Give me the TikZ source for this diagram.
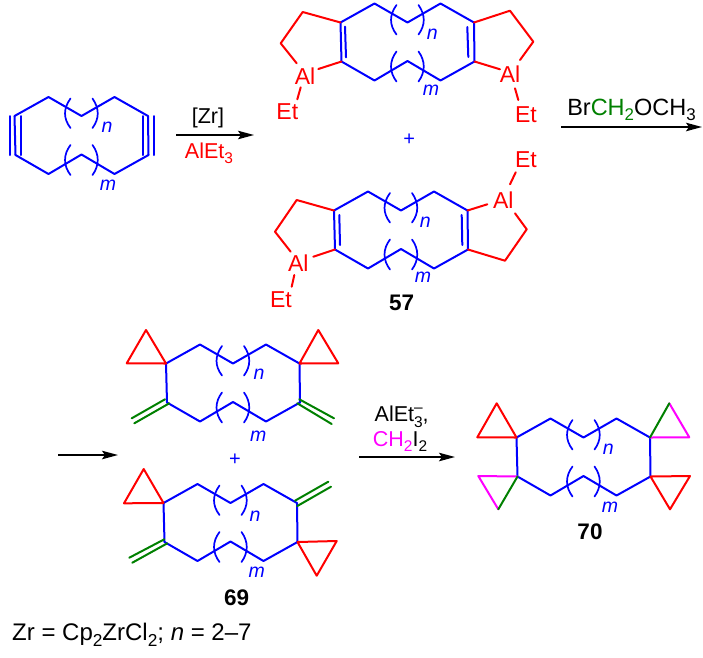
\documentclass[tikz,border=0pt]{standalone}
\usepackage{graphicx}
\usepackage{fontspec}
\setmainfont{Liberation Sans}
\usetikzlibrary{arrows.meta}
\definecolor{bondblue}{RGB}{0,0,255}
\definecolor{bondred}{RGB}{255,0,0}
\definecolor{bondgreen}{RGB}{0,128,0}
\definecolor{bondpink}{RGB}{255,0,255}
\newcommand{\subt}[1]{\raisebox{-.24em}{\scalebox{.72}{#1}}}
\newcommand{\supt}[1]{\raisebox{.42em}{\scalebox{.72}{#1}}}
\tikzset{
  blueb/.style={draw=bondblue,line width=2pt,line join=round,line cap=round},
  redb/.style={draw=bondred,line width=2pt,line join=round,line cap=round},
  greenb/.style={draw=bondgreen,line width=2pt,line cap=round},
  pinkb/.style={draw=bondpink,line width=2pt,line join=round,line cap=round},
  parenb/.style={draw=bondblue,line width=1.7pt,line cap=round},
  atomlab/.style={text=bondred,inner sep=0pt,font=\fontsize{23}{26}\selectfont},
  idxlab/.style={text=bondblue,inner sep=0pt,font=\fontsize{19.5}{22}\selectfont\itshape},
  pluslab/.style={text=bondblue,inner sep=0pt,font=\fontsize{20}{22}\selectfont},
  numlab/.style={inner sep=0pt,font=\fontsize{22.5}{25}\selectfont\bfseries},
  reagent/.style={inner sep=0pt,font=\fontsize{21.5}{24}\selectfont},
  rxn/.style={draw=black,line width=1.6pt,-{Stealth[length=16pt,width=8.5pt,inset=3pt]}},
}
% ring skeleton: corners named <name>p1..<name>p10
\newcommand{\ringat}[3]{%
  \begin{scope}[shift={(#2,#3)}]
    \coordinate (#1p1) at (-67,-19.5);
    \coordinate (#1p2) at (-33,-38.5);
    \coordinate (#1p3) at (0,-19.5);
    \coordinate (#1p4) at (33,-38.5);
    \coordinate (#1p5) at (66.5,-19.5);
    \coordinate (#1p6) at (67,19.5);
    \coordinate (#1p7) at (33,38.5);
    \coordinate (#1p8) at (0,19);
    \coordinate (#1p9) at (-33,38.5);
    \coordinate (#1p10) at (-66,19.5);
    \draw[blueb] (#1p1)--(#1p2)--(#1p3)--(#1p4)--(#1p5);
    \draw[blueb] (#1p6)--(#1p7)--(#1p8)--(#1p9)--(#1p10);
    \draw[parenb] (-11,-37) .. controls (-18.3,-27) and (-18.3,-17) .. (-11,-7.5);
    \draw[parenb] (11,-37) .. controls (18,-27) and (18,-17) .. (11,-7.5);
    \draw[parenb] (-11,9.5) .. controls (-18.3,19) and (-18.3,30) .. (-11,39.5);
    \draw[parenb] (11,9.5) .. controls (18,19) and (18,30) .. (11,39.5);
  \end{scope}}
\begin{document}
\begin{tikzpicture}[x=1pt,y=-1pt]
\useasboundingbox (0,0) rectangle (703,657);

% starting diyne
\ringat{s}{81.5}{135.5}
\draw[blueb] (sp1)--(sp10);
\draw[blueb] (9.5,116)--(9.5,155);
\draw[blueb] (20.5,116)--(20.5,155);
\draw[blueb] (sp5)--(sp6);
\draw[blueb] (142.5,116)--(142.5,155);
\draw[blueb] (153.5,116)--(153.5,155);
\node[idxlab] (sn) at (107,127) {n};
\node[idxlab] (sm) at (108,185) {m};

% arrow 1
\coordinate (a1s) at (176,135);
\coordinate (a1e) at (254,135);
\draw[rxn] (a1s)--(a1e);
\node[reagent] (zr) at (208,118) {[Zr]};
\node[reagent,text=bondred] (alet) at (209,153) {AlEt\subt{3}};

% upper dialane
\ringat{a}{407.5}{42}
\draw[blueb] (ap1)--(ap10);
\draw[blueb] (345,26.7)--(346,57.3);
\draw[blueb] (ap5)--(ap6);
\draw[blueb] (467.3,27)--(468.3,57);
\draw[redb] (ap1)--(302.7,12)--(280.7,43.3)--(296.7,63.3);
\draw[redb] (ap10)--(318.3,69);
\node[atomlab] (aal1) at (305,76) {Al};
\draw[redb] (300.7,87.3)--(297.3,99.3);
\node[atomlab] (aet1) at (287.3,111.7) {Et};
\draw[redb] (ap5)--(510,10.7)--(533.3,41.7)--(520,60);
\draw[redb] (ap6)--(500,69.3);
\node[atomlab] (aal2) at (510,74) {Al};
\draw[redb] (515,88.3)--(518.3,100);
\node[atomlab] (aet2) at (526,115) {Et};
\node[idxlab] (an) at (432.3,34) {n};
\node[idxlab] (am) at (431,90) {m};
\node[pluslab] (p1) at (409.3,140) {+};

% lower dialane
\ringat{b}{401}{230}
\draw[blueb] (bp1)--(bp10);
\draw[blueb] (339.3,215)--(340,245);
\draw[blueb] (bp5)--(bp6);
\draw[blueb] (461.7,215)--(462.3,245);
\draw[redb] (bp1)--(296.7,200)--(275,231.7)--(290.7,251.7);
\draw[redb] (bp10)--(313.3,256.7);
\node[atomlab] (bal1) at (298.3,262.7) {Al};
\draw[redb] (294.3,275)--(291.7,286.7);
\node[atomlab] (bet1) at (281,300) {Et};
\draw[redb] (bp5)--(487.3,204.3);
\node[atomlab] (bal2) at (503.3,200) {Al};
\draw[redb] (515,213.3)--(526.7,229.3)--(505,260.7)--(bp6);
\draw[redb] (510,184.3)--(515.7,172.3);
\node[atomlab] (bet2) at (526,160) {Et};
\node[idxlab] (bn) at (425.3,222.5) {n};
\node[idxlab] (bm) at (423,277) {m};
\node[numlab] (n57) at (401.7,303.3) {57};

% arrow 2
\coordinate (a2s) at (561,127);
\coordinate (a2e) at (702,127);
\draw[rxn] (a2s)--(a2e);
\node[reagent,font=\fontsize{23.5}{26}\selectfont] (brc) at (631.5,110) {Br\textcolor{bondgreen}{CH\subt{2}}OCH\subt{3}};

% arrow 3
\coordinate (a3s) at (58,455);
\coordinate (a3e) at (118,455);
\draw[rxn] (a3s)--(a3e);

% upper bis-spiro diene
\ringat{c}{233}{383}
\draw[blueb] (cp1)--(cp10);
\draw[blueb] (cp5)--(cp6);
\draw[redb] (cp1)--(126.7,363.3)--(146,330)--cycle;
\draw[redb] (cp5)--(338.3,363.3)--(318.3,330)--cycle;
\draw[greenb] (165,399.3)--(131.7,418.3);
\draw[greenb] (169.3,403.3)--(134.3,423.3);
\draw[greenb] (299.3,399.3)--(334,418.3);
\draw[greenb] (297.3,403.3)--(331.7,424);
\node[idxlab] (cn) at (259,374.5) {n};
\node[idxlab] (cm) at (258.3,436) {m};
\node[pluslab] (p2) at (235,460) {+};

% lower bis-spiro diene
\ringat{d}{230.5}{522.5}
\draw[blueb] (dp1)--(dp10);
\draw[blueb] (dp5)--(dp6);
\draw[redb] (dp1)--(124,503.3)--(143.7,469)--cycle;
\draw[redb] (dp6)--(336.7,541)--(316.7,575.7)--cycle;
\draw[greenb] (164.3,539.3)--(129.3,557.7);
\draw[greenb] (167.3,543.3)--(132.3,562.7);
\draw[greenb] (295,500.7)--(328.3,481.7);
\draw[greenb] (297.3,506)--(331,486.7);
\node[idxlab] (dn) at (255,516.5) {n};
\node[idxlab] (dm) at (256.7,572) {m};
\node[numlab] (n69) at (236.7,597.3) {69};

% arrow 4
\coordinate (a4s) at (359,457);
\coordinate (a4e) at (455,457);
\draw[rxn] (a4s)--(a4e);
\node[reagent] (alm) at (401.7,416.7) {AlEt\rlap{\supt{–}}\subt{3},};
\node[reagent] (chi) at (400,441.7) {\textcolor{bondpink}{CH\subt{2}}I\subt{2}};

% product
\ringat{e}{583.5}{457}
\draw[blueb] (ep1)--(ep10);
\draw[blueb] (ep5)--(ep6);
\draw[redb] (ep1)--(477.3,437.3)--(496.7,403.3)--cycle;
\draw[redb] (ep6)--(690,476)--(670,509.3)--cycle;
\coordinate (etr) at (669.3,403.3);
\coordinate (ebl) at (498.3,509.3);
\draw[pinkb] (etr)--(689.3,437.3)--(ep5);
\draw[greenb] (ep5)--(etr);
\draw[pinkb] (ep10)--(478.3,476)--(ebl);
\draw[greenb] (ep10)--(ebl);
\node[idxlab] (en) at (608.3,449) {n};
\node[idxlab] (em) at (610,507.5) {m};
\node[numlab] (n70) at (590,531.7) {70};

% footnote
\node[inner sep=0pt,anchor=west,font=\fontsize{24}{27}\selectfont] (foot) at (12,635)
  {Zr = Cp\subt{2}ZrCl\subt{2}; \textit{n} = 2–7};
\end{tikzpicture}
\end{document}
